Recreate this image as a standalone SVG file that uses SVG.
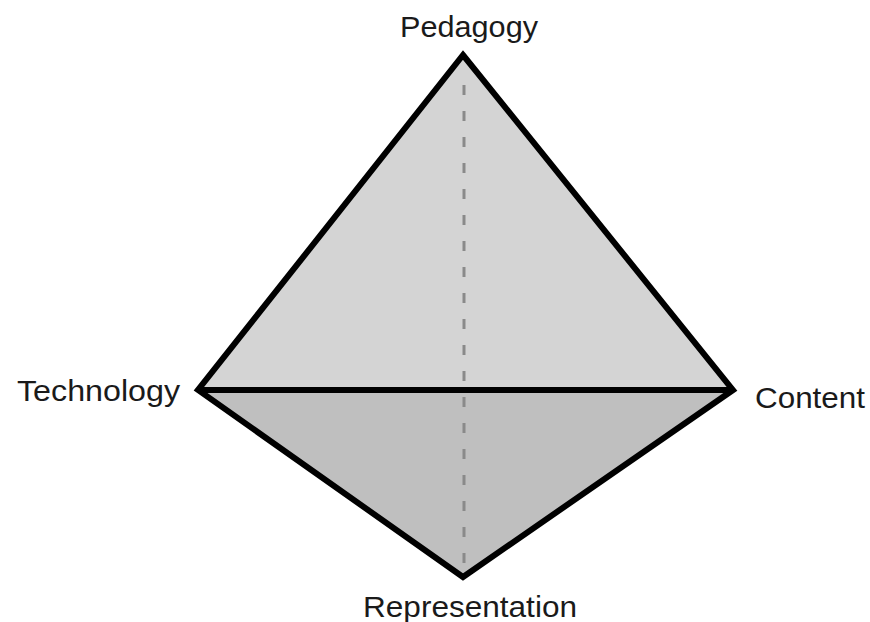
<svg xmlns="http://www.w3.org/2000/svg" width="870" height="622" viewBox="0 0 870 622">
<style>
.lbl{font-family:"Liberation Sans",Arial,sans-serif;font-size:29px;fill:#1a1a1a}
.edge{fill:none;stroke:#000;stroke-width:6;stroke-linejoin:miter}
.hidden{fill:none;stroke:#8a8a8a;stroke-width:3;stroke-dasharray:10 16}
</style>
<rect width="870" height="622" fill="#fff"/>
<g id="faces">
<polygon points="463,55 198,390 733,390" fill="#d4d4d4"/>
<polygon points="198,390 733,390 463,577" fill="#bfbfbf"/>
</g>
<g id="connectors">
<line class="hidden" x1="464" y1="85" x2="464" y2="572"/>
<polygon class="edge" points="463,55 733,390 463,577 198,390"/>
<line class="edge" x1="198" y1="390" x2="733" y2="390"/>
</g>
<g id="node-pedagogy"><text class="lbl" x="400" y="37" textLength="138" lengthAdjust="spacingAndGlyphs">Pedagogy</text></g>
<g id="node-technology"><text class="lbl" x="17" y="401" textLength="163" lengthAdjust="spacingAndGlyphs">Technology</text></g>
<g id="node-content"><text class="lbl" x="755" y="408" textLength="110" lengthAdjust="spacingAndGlyphs">Content</text></g>
<g id="node-representation"><text class="lbl" x="363" y="617" textLength="214" lengthAdjust="spacingAndGlyphs">Representation</text></g>
</svg>
